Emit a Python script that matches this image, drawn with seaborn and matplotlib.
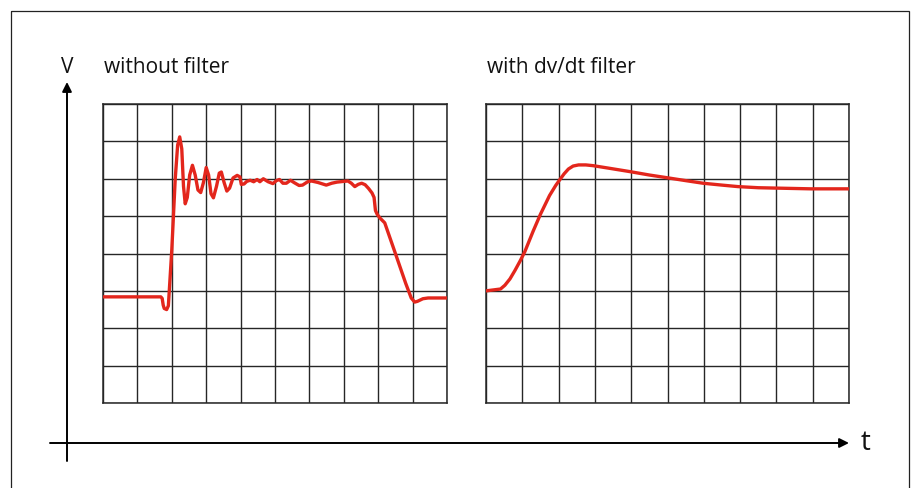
import numpy as np
import pandas as pd
import seaborn as sns
import matplotlib
matplotlib.use("Agg")
import matplotlib.pyplot as plt
from matplotlib.patches import Rectangle

# left trace (no filter), in grid divisions
t_raw = [0.0, 1.68, 1.72, 1.75, 1.78, 1.85, 1.90, 2.00, 2.10, 2.17, 2.23, 2.29, 2.34, 2.39,
         2.45, 2.52, 2.60, 2.68, 2.76, 2.84, 2.92, 3.00, 3.07, 3.14, 3.21, 3.30, 3.38, 3.44,
         3.52, 3.60, 3.68, 3.78, 3.90, 3.98, 4.02, 4.10, 4.18, 4.28, 4.38, 4.48, 4.56, 4.66,
         4.80, 4.94, 5.04, 5.13, 5.23, 5.33, 5.45, 5.55, 5.70, 5.80, 5.95, 6.06, 6.25, 6.49,
         6.65, 6.80, 7.00, 7.12, 7.22, 7.32, 7.42, 7.52, 7.62, 7.72, 7.82, 7.88, 7.92, 7.97,
         8.05, 8.19, 8.50, 8.80, 8.96, 9.06, 9.14, 9.30, 9.45, 10.0]
v_raw = [2.84, 2.84, 2.80, 2.62, 2.53, 2.50, 2.60, 4.10, 6.00, 6.90, 7.12, 6.80, 5.80, 5.33,
         5.50, 6.10, 6.36, 6.10, 5.70, 5.63, 5.90, 6.30, 6.10, 5.60, 5.49, 5.80, 6.15, 6.18,
         5.90, 5.67, 5.75, 6.02, 6.09, 6.05, 5.85, 5.86, 5.93, 5.96, 5.92, 5.98, 5.92, 6.00,
         5.92, 5.87, 5.95, 5.98, 5.88, 5.88, 5.96, 5.90, 5.82, 5.83, 5.92, 5.94, 5.90, 5.83,
         5.88, 5.91, 5.93, 5.94, 5.88, 5.79, 5.85, 5.88, 5.84, 5.74, 5.62, 5.50, 5.15, 5.05,
         4.95, 4.82, 4.00, 3.20, 2.81, 2.70, 2.72, 2.79, 2.81, 2.81]

# right trace (dv/dt filter)
t_filt = [0.0, 0.40, 0.52, 0.66, 0.80, 0.94, 1.07, 1.30, 1.50, 1.75, 1.92, 2.03, 2.15, 2.27,
          2.40, 2.55, 2.75, 2.95, 3.40, 3.97, 4.50, 4.97, 5.50, 5.98, 6.50, 6.94, 7.50, 7.98,
          8.95, 10.0]
v_filt = [3.00, 3.05, 3.15, 3.32, 3.55, 3.80, 4.05, 4.60, 5.05, 5.55, 5.82, 5.97, 6.13, 6.26,
          6.34, 6.37, 6.37, 6.35, 6.28, 6.19, 6.10, 6.03, 5.95, 5.88, 5.83, 5.79, 5.76, 5.75,
          5.73, 5.73]

titles = ["without filter", "with dv/dt filter"]

sns.set_style("white")
plt.rcParams["font.family"] = ["Open Sans", "DejaVu Sans"]

W, H = 914, 488
fig = plt.figure(figsize=(W / 100, H / 100), dpi=100)

# background layer for frame and V/t axes
bg = fig.add_axes([0, 0, 1, 1])
bg.set_xlim(0, W)
bg.set_ylim(H, 0)
bg.axis("off")
bg.add_patch(Rectangle((10.5, 10.5), 898, 500, fill=False, ec="#222222", lw=0.9))
arrow = dict(arrowstyle="-|>", lw=1.4, color="black", mutation_scale=14, shrinkA=0, shrinkB=0)
bg.annotate("", xy=(67, 82), xytext=(67, 461), arrowprops=arrow)
bg.annotate("", xy=(849, 443), xytext=(50, 443), arrowprops=arrow)
bg.text(67.5, 73, "V", fontsize=15, ha="center", va="baseline", color="#111111")
bg.text(861, 450, "t", fontsize=20, ha="left", va="baseline", color="#111111")

panels = [
    (103, 447, t_raw, v_raw),
    (486, 849, t_filt, v_filt),
]
red = "#e3261c"
for (x0, x1, t, v), title in zip(panels, titles):
    ax = fig.add_axes([x0 / W, (H - 403) / H, (x1 - x0) / W, (403 - 104) / H])
    df = pd.DataFrame({"t": t, "v": v})
    sns.lineplot(data=df, x="t", y="v", ax=ax, color=red, lw=2.4, sort=False,
                 estimator=None, zorder=3)
    ax.set_xlim(0, 10)
    ax.set_ylim(0, 8)
    ax.set_xticks(np.arange(0, 11))
    ax.set_yticks(np.arange(0, 9))
    ax.tick_params(length=0, labelbottom=False, labelleft=False)
    ax.grid(True, color="#262626", lw=1.0)
    for s in ax.spines.values():
        s.set_color("#262626")
        s.set_linewidth(1.1)
    ax.set_xlabel("")
    ax.set_ylabel("")
    ax.patch.set_alpha(0)
    bg.text(x0 + 1, 73, title, fontsize=15, ha="left", va="baseline", color="#111111")

fig.savefig("out.png", dpi=100)
